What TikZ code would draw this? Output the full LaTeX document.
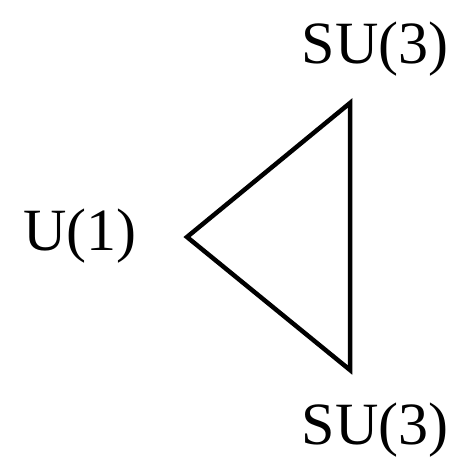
\documentclass[tikz,border=0pt]{standalone}
\usepackage{fontspec}
\setmainfont{Liberation Serif}
\usetikzlibrary{positioning}
\tikzset{grp/.style={inner sep=0pt,anchor=base,font=\fontsize{60}{70}\selectfont}}

\begin{document}
\begin{tikzpicture}[x=1pt,y=-1pt]
 \useasboundingbox (0,0) rectangle (457,458);
 % vertices
 \coordinate (vl) at (187,237);
 \coordinate (vt) at (350,103);
 \coordinate (vb) at (350,370);
 \draw[line width=4.5pt,line join=miter] (vl)--(vt)--(vb)--cycle;
 % labels
 \node[grp] (sut) at (375,63) {SU(3)};
 \node[grp] (u1) at (80,250) {U(1)};
 \node[grp] (sub) at (375,444) {SU(3)};
\end{tikzpicture}
\end{document}
